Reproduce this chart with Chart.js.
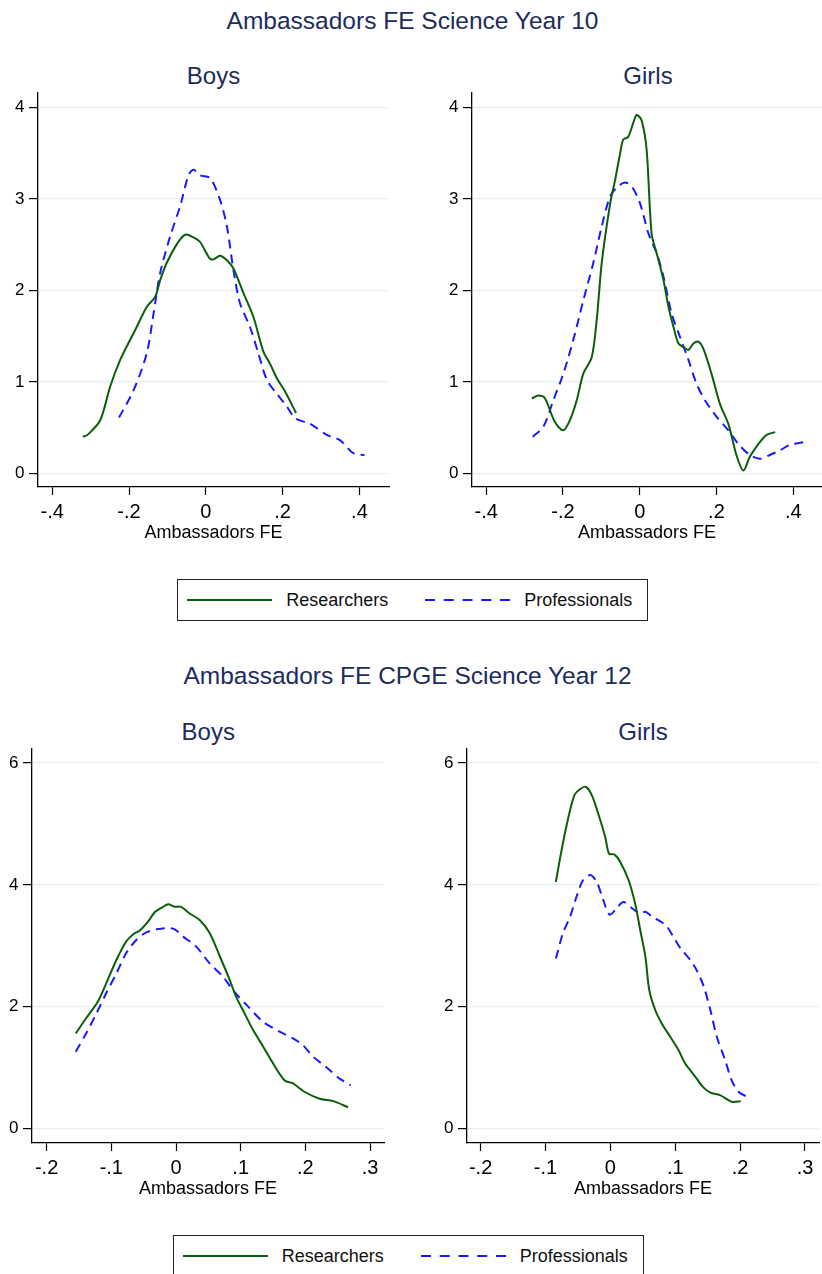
<!DOCTYPE html>
<html>
<head>
<meta charset="utf-8">
<script src="https://cdn.jsdelivr.net/npm/chart.js@4.4.1/dist/chart.umd.min.js"></script>
<style>
html, body { margin: 0; padding: 0; background: #fff; overflow: hidden; width: 822px; height: 1274px; }
body { position: relative; font-family: "Liberation Sans", Helvetica, Arial, sans-serif; }
.ttl { position: absolute; text-align: center; white-space: nowrap; color: #1c2c5b; line-height: 1; }
.panel { position: absolute; }
.lgbox { position: absolute; box-sizing: border-box; border: 1.3px solid #222; width: 471px; height: 42px; }
.lgtxt { position: absolute; font-size: 18px; line-height: 42px; color: #111; white-space: nowrap; }
.lgline { position: absolute; }
</style>
</head>
<body>

<div class="ttl" style="left:0;width:825px;top:8.6px;font-size:24.5px;">Ambassadors FE Science Year 10</div>
<div class="ttl" style="left:13.5px;width:400px;top:63.7px;font-size:24px;">Boys</div>
<div class="ttl" style="left:448px;width:400px;top:63.7px;font-size:24px;">Girls</div>

<div class="ttl" style="left:0;width:815px;top:663.6px;font-size:24.5px;">Ambassadors FE CPGE Science Year 12</div>
<div class="ttl" style="left:8.3px;width:400px;top:719.7px;font-size:24px;">Boys</div>
<div class="ttl" style="left:443px;width:400px;top:719.7px;font-size:24px;">Girls</div>

<div id="lg1"></div>
<div id="lg2"></div>

<script>
// Year 10 - Boys
const y10BoysResX = [-0.320, -0.308, -0.275, -0.249, -0.223, -0.197, -0.180, -0.154, -0.132, -0.119, -0.102, -0.075, -0.054, -0.032, -0.015, 0.010, 0.020, 0.037, 0.055, 0.072, 0.098, 0.124, 0.150, 0.167, 0.185, 0.207, 0.235];
const y10BoysResY = [0.40, 0.42, 0.58, 0.95, 1.24, 1.46, 1.60, 1.82, 1.93, 2.11, 2.30, 2.51, 2.61, 2.58, 2.53, 2.35, 2.34, 2.38, 2.33, 2.24, 1.97, 1.71, 1.33, 1.20, 1.04, 0.89, 0.66];
const y10BoysProX = [-0.226, -0.188, -0.154, -0.136, -0.119, -0.093, -0.067, -0.045, -0.032, -0.015, 0.011, 0.037, 0.055, 0.072, 0.089, 0.115, 0.137, 0.159, 0.185, 0.211, 0.233, 0.272, 0.315, 0.350, 0.384, 0.413];
const y10BoysProY = [0.61, 0.91, 1.31, 1.75, 2.19, 2.59, 2.92, 3.26, 3.32, 3.26, 3.23, 2.99, 2.70, 2.22, 1.86, 1.60, 1.31, 1.02, 0.87, 0.73, 0.60, 0.54, 0.42, 0.36, 0.22, 0.20];

// Year 10 - Girls
const y10GirlsResX = [-0.281, -0.264, -0.247, -0.221, -0.199, -0.182, -0.164, -0.147, -0.125, -0.112, -0.099, -0.077, -0.064, -0.051, -0.043, -0.030, -0.017, -0.008, 0.005, 0.018, 0.031, 0.044, 0.062, 0.075, 0.088, 0.101, 0.114, 0.127, 0.140, 0.153, 0.166, 0.187, 0.209, 0.231, 0.252, 0.270, 0.287, 0.309, 0.331, 0.353];
const y10GirlsResY = [0.82, 0.85, 0.82, 0.56, 0.47, 0.58, 0.80, 1.09, 1.27, 1.68, 2.30, 2.95, 3.21, 3.50, 3.65, 3.68, 3.83, 3.92, 3.86, 3.54, 2.62, 2.41, 2.11, 1.82, 1.60, 1.42, 1.38, 1.35, 1.42, 1.44, 1.36, 1.09, 0.76, 0.54, 0.20, 0.03, 0.18, 0.32, 0.42, 0.45];
const y10GirlsProX = [-0.279, -0.251, -0.225, -0.199, -0.173, -0.147, -0.121, -0.099, -0.077, -0.056, -0.038, -0.021, 0.001, 0.023, 0.044, 0.062, 0.083, 0.105, 0.127, 0.148, 0.170, 0.200, 0.231, 0.257, 0.287, 0.313, 0.339, 0.365, 0.391, 0.426];
const y10GirlsProY = [0.40, 0.51, 0.80, 1.09, 1.46, 1.89, 2.30, 2.70, 3.03, 3.14, 3.18, 3.14, 2.95, 2.62, 2.41, 2.15, 1.75, 1.49, 1.24, 0.98, 0.80, 0.62, 0.47, 0.32, 0.20, 0.16, 0.20, 0.25, 0.31, 0.34];

// Year 12 - Boys
const y12BoysResX = [-0.155, -0.139, -0.121, -0.108, -0.092, -0.077, -0.066, -0.056, -0.043, -0.033, -0.023, -0.012, -0.002, 0.008, 0.021, 0.037, 0.052, 0.068, 0.083, 0.093, 0.106, 0.119, 0.135, 0.150, 0.168, 0.181, 0.199, 0.222, 0.243, 0.266];
const y12BoysResY = [1.56, 1.81, 2.08, 2.38, 2.77, 3.07, 3.19, 3.25, 3.40, 3.55, 3.62, 3.68, 3.64, 3.64, 3.53, 3.42, 3.21, 2.82, 2.44, 2.16, 1.89, 1.62, 1.34, 1.07, 0.79, 0.74, 0.60, 0.49, 0.45, 0.35];
const y12BoysProX = [-0.155, -0.139, -0.123, -0.108, -0.092, -0.077, -0.061, -0.046, -0.030, -0.015, -0.002, 0.011, 0.031, 0.052, 0.073, 0.088, 0.109, 0.135, 0.160, 0.181, 0.196, 0.212, 0.232, 0.253, 0.270];
const y12BoysProY = [1.26, 1.56, 1.89, 2.22, 2.55, 2.88, 3.10, 3.22, 3.27, 3.29, 3.27, 3.15, 2.99, 2.71, 2.49, 2.27, 2.03, 1.75, 1.59, 1.48, 1.37, 1.18, 1.01, 0.82, 0.71];

// Year 12 - Girls
const y12GirlsResX = [-0.084, -0.078, -0.070, -0.062, -0.055, -0.047, -0.038, -0.029, -0.019, -0.008, -0.002, 0.006, 0.015, 0.028, 0.038, 0.046, 0.054, 0.060, 0.069, 0.079, 0.092, 0.105, 0.115, 0.123, 0.133, 0.143, 0.154, 0.169, 0.187, 0.201];
const y12GirlsResY = [4.05, 4.41, 4.85, 5.23, 5.48, 5.57, 5.61, 5.48, 5.18, 4.79, 4.51, 4.50, 4.38, 4.08, 3.70, 3.26, 2.82, 2.27, 1.95, 1.73, 1.51, 1.29, 1.07, 0.96, 0.82, 0.68, 0.59, 0.55, 0.44, 0.45];
const y12GirlsProX = [-0.084, -0.073, -0.062, -0.052, -0.042, -0.031, -0.021, -0.011, -0.001, 0.010, 0.020, 0.033, 0.046, 0.054, 0.064, 0.077, 0.087, 0.097, 0.108, 0.123, 0.133, 0.144, 0.154, 0.164, 0.177, 0.187, 0.198, 0.211];
const y12GirlsProY = [2.79, 3.21, 3.48, 3.81, 4.08, 4.16, 4.05, 3.75, 3.51, 3.62, 3.72, 3.62, 3.53, 3.56, 3.48, 3.40, 3.32, 3.15, 2.96, 2.77, 2.60, 2.33, 1.95, 1.51, 1.12, 0.79, 0.60, 0.52];

// ticks
const xTicks10 = [-0.4, -0.2, 0, 0.2, 0.4];
const xLabels10 = ['-.4', '-.2', '0', '.2', '.4'];
const yTicks10 = [0, 1, 2, 3, 4];
const yLabels10 = ['0', '1', '2', '3', '4'];
const xTicks12 = [-0.2, -0.1, 0, 0.1, 0.2, 0.3];
const xLabels12 = ['-.2', '-.1', '0', '.1', '.2', '.3'];
const yTicks12 = [0, 2, 4, 6];
const yLabels12 = ['0', '2', '4', '6'];

const seriesNames = ['Researchers', 'Professionals'];
const xTitle = 'Ambassadors FE';

const GREEN = '#0b5e0b';
const BLUE = '#1a1aff';
const FONT = '"Liberation Sans", Helvetica, Arial, sans-serif';

function pts(xs, ys) {
    return xs.map((x, i) => ({ x: x, y: ys[i] }));
}

function makePanel(p) {
    const w = p.r - p.l + 42;
    const h = p.b - p.t + 80;
    const div = document.createElement('div');
    div.className = 'panel';
    div.style.left = (p.l - 40) + 'px';
    div.style.top = (p.t - 20) + 'px';
    div.style.width = w + 'px';
    div.style.height = h + 'px';
    const cv = document.createElement('canvas');
    cv.width = w;
    cv.height = h;
    div.appendChild(cv);
    document.body.appendChild(div);

    new Chart(cv.getContext('2d'), {
        type: 'line',
        data: {
            datasets: [
                {
                    label: seriesNames[0],
                    data: pts(p.resX, p.resY),
                    borderColor: GREEN,
                    borderWidth: 2,
                    pointRadius: 0,
                    tension: 0.3,
                    fill: false
                },
                {
                    label: seriesNames[1],
                    data: pts(p.proX, p.proY),
                    borderColor: BLUE,
                    borderWidth: 2,
                    borderDash: [9, 6],
                    pointRadius: 0,
                    tension: 0.3,
                    fill: false
                }
            ]
        },
        options: {
            responsive: false,
            animation: false,
            layout: { padding: { top: 20, right: 2, bottom: 0, left: 0 } },
            plugins: { legend: { display: false }, tooltip: { enabled: false } },
            scales: {
                x: {
                    type: 'linear',
                    min: p.xmin,
                    max: p.xmax,
                    afterBuildTicks: s => { s.ticks = p.xTicks.map(v => ({ value: v })); },
                    afterFit: s => { s.height = 60; },
                    grid: { drawOnChartArea: false, drawTicks: true, tickLength: 8, tickColor: '#000', tickWidth: 1.2 },
                    border: { display: true, color: '#000', width: 1.3 },
                    ticks: {
                        autoSkip: false,
                        maxRotation: 0,
                        padding: 5.5,
                        color: '#000',
                        font: { family: FONT, size: 20 },
                        callback: (v, i) => p.xLabels[i]
                    },
                    title: {
                        display: true,
                        text: xTitle,
                        color: '#000',
                        font: { family: FONT, size: 18 },
                        padding: { top: 0, bottom: 3 }
                    }
                },
                y: {
                    type: 'linear',
                    min: p.ymin,
                    max: p.ymax,
                    afterBuildTicks: s => { s.ticks = p.yTicks.map(v => ({ value: v })); },
                    afterFit: s => { s.width = 40; },
                    grid: { color: '#e6eff2', lineWidth: 1.2, drawTicks: true, tickLength: 9, tickColor: '#000', tickWidth: 1.2 },
                    border: { display: true, color: '#000', width: 1.3 },
                    ticks: {
                        autoSkip: false,
                        padding: 4.5,
                        color: '#000',
                        font: { family: FONT, size: 17 },
                        callback: (v, i) => p.yLabels[i]
                    }
                }
            }
        }
    });
}

makePanel({ l: 38, t: 93, r: 389, b: 487, xmin: -0.437, xmax: 0.477, ymin: -0.15, ymax: 4.16,
    xTicks: xTicks10, xLabels: xLabels10, yTicks: yTicks10, yLabels: yLabels10,
    resX: y10BoysResX, resY: y10BoysResY, proX: y10BoysProX, proY: y10BoysProY });
makePanel({ l: 472, t: 93, r: 822, b: 487, xmin: -0.437, xmax: 0.475, ymin: -0.15, ymax: 4.16,
    xTicks: xTicks10, xLabels: xLabels10, yTicks: yTicks10, yLabels: yLabels10,
    resX: y10GirlsResX, resY: y10GirlsResY, proX: y10GirlsProX, proY: y10GirlsProY });
makePanel({ l: 32, t: 749, r: 384, b: 1143, xmin: -0.2226, xmax: 0.3215, ymin: -0.237, ymax: 6.23,
    xTicks: xTicks12, xLabels: xLabels12, yTicks: yTicks12, yLabels: yLabels12,
    resX: y12BoysResX, resY: y12BoysResY, proX: y12BoysProX, proY: y12BoysProY });
makePanel({ l: 467, t: 749, r: 819, b: 1143, xmin: -0.221, xmax: 0.3216, ymin: -0.237, ymax: 6.23,
    xTicks: xTicks12, xLabels: xLabels12, yTicks: yTicks12, yLabels: yLabels12,
    resX: y12GirlsResX, resY: y12GirlsResY, proX: y12GirlsProX, proY: y12GirlsProY });

// legends (plain html, one under each row)
function makeLegend(holder, left, top) {
    const el = document.getElementById(holder);
    const mid = top + 21;
    el.innerHTML =
        '<div class="lgbox" style="left:' + left + 'px;top:' + top + 'px;"></div>' +
        '<svg class="lgline" style="left:' + (left + 10) + 'px;top:' + (mid - 3) + 'px;" width="86" height="6">' +
        '<line x1="0" y1="3" x2="85" y2="3" stroke="' + GREEN + '" stroke-width="2"/></svg>' +
        '<div class="lgtxt" style="left:' + (left + 109) + 'px;top:' + top + 'px;">' + seriesNames[0] + '</div>' +
        '<svg class="lgline" style="left:' + (left + 248) + 'px;top:' + (mid - 3) + 'px;" width="86" height="6">' +
        '<line x1="0" y1="3" x2="85" y2="3" stroke="' + BLUE + '" stroke-width="2" stroke-dasharray="10 8.75"/></svg>' +
        '<div class="lgtxt" style="left:' + (left + 347) + 'px;top:' + top + 'px;">' + seriesNames[1] + '</div>';
}
makeLegend('lg1', 177.3, 579.3);
makeLegend('lg2', 172.7, 1234.7);
</script>
</body>
</html>
